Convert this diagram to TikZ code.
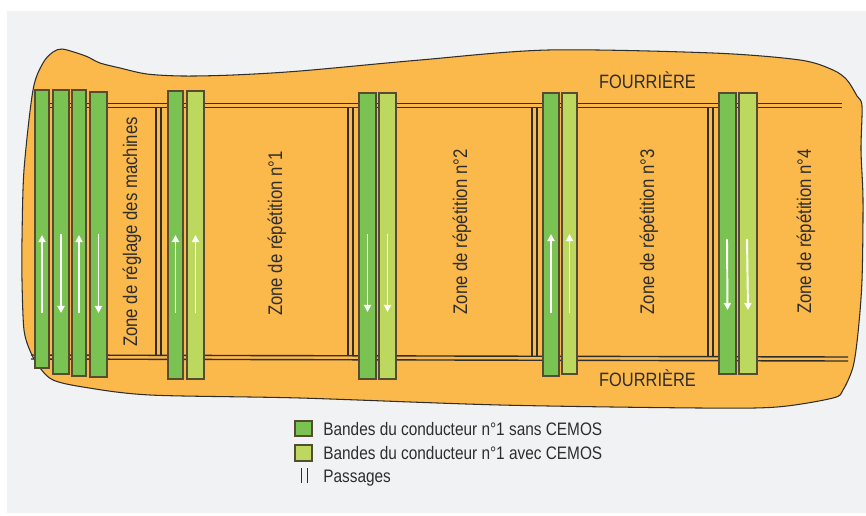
\documentclass[tikz,border=0pt]{standalone}
\usepackage{fontspec}
\setmainfont{Liberation Sans}[FakeStretch=0.85]
\usetikzlibrary{arrows.meta}

\definecolor{panel}{HTML}{F1F2F4}
\definecolor{field}{HTML}{FBB84B}
\definecolor{sans}{HTML}{7AC251}
\definecolor{avec}{HTML}{BDD85E}
\definecolor{edge}{HTML}{564C34}
\definecolor{ink}{HTML}{2E2E2E}

\begin{document}
\begin{tikzpicture}[
  x=0.02cm, y=-0.02cm,
  font=\fontsize{11}{13}\selectfont,
  >={Triangle[length=4pt, width=4pt]},
  strip/.style={draw=edge, line width=0.8pt},
  flow/.style={->, white, line width=1.1pt},
  road/.style={ink, line width=0.8pt},
  zone/.style={rotate=90, anchor=base, inner sep=0pt, text=ink,
               font=\fontsize{11.2}{13}\selectfont},
  keytext/.style={anchor=base west, inner sep=0pt, text=ink,
                  font=\fontsize{10.3}{12}\selectfont},
]
% Coordinate system: 1 unit = 1 px of the plan, y pointing down

% --- Background panel ---
\useasboundingbox (0,0) rectangle (866,515);
\fill[white] (0,0) rectangle (866,515);
\fill[panel] (7,11) rectangle (866,513);

% --- Field outline ---
\draw[fill=field, draw=ink, line width=0.6pt] plot[smooth cycle, tension=0.5] coordinates {
  (22,240) (24,170) (33,90) (43,63) (53,52) (62,49) (77,53) (88,57)
  (100,63) (120,68) (147,74) (183,76) (233,75) (300,71) (420,60)
  (548,50) (713,53) (800,60) (833,70) (847,80) (857,96) (862,106)
  (861,150) (863,200) (862,280) (858,333) (853,367) (843,390) (833,398)
  (777,407) (700,408) (500,405) (300,398) (150,395) (83,387) (53,380)
  (40,368) (31,353) (24,330) (22,280)};

% --- Headlands (double lines) ---
\draw[road] (40,103.5) -- (842,103.5);
\draw[road] (40,107.5) -- (842,107.5);
\draw[road] (31,355) -- (848,357);
\draw[road] (31,359) -- (848,361);

% --- Passages ---
\foreach \x in {156,348,532,708} {
  \draw[road] (\x,107.5) -- (\x,355.5);
  \draw[road] (\x+5,107.5) -- (\x+5,355.5);
}

% --- Strips ---
\foreach \xa/\xb/\ya/\yb/\col in {
  35/49/90/368/sans, 53/69/90/374/sans, 72/86/90/376/sans, 90/107/92/377/sans,
  168/183/91/379/sans, 187/204/91/379/avec,
  359/376/93/379/sans, 379/396/93/379/avec,
  543/559/93/376/sans, 562/577/93/374/avec,
  719/736/93/374/sans, 739/757/93/374/avec}
  \filldraw[strip, fill=\col] (\xa,\ya) rectangle (\xb,\yb);

% --- Driving directions ---
\foreach \xa/\xb/\ya/\yb in {
  42/42/313/235, 61/61/234/313, 79/79/313/235, 98.5/98.5/234/313,
  175.5/175.5/313/235, 195.5/195.5/313/235,
  367.5/367.5/234/312, 387.5/387.5/234/312,
  551/551/313/234, 569.5/569.5/313/234,
  727/727.5/239/310, 747/748/239/310}
  \draw[flow] (\xa,\ya) -- (\xb,\yb);

% --- Headland labels ---
\node[anchor=base, inner sep=0pt, text=ink] (fourhaut) at (647.5,88) {FOURRIÈRE};
\node[anchor=base, inner sep=0pt, text=ink] (fourbas) at (647.5,386) {FOURRIÈRE};

% --- Zone labels ---
\node[zone] (reglage) at (137,232) {Zone de réglage des machines};
\node[zone] (rep1) at (282,233.5) {Zone de répétition n°1};
\node[zone] (rep2) at (467,232) {Zone de répétition n°2};
\node[zone] (rep3) at (654,232) {Zone de répétition n°3};
\node[zone] (rep4) at (811,231.5) {Zone de répétition n°4};

% --- Legend ---
\filldraw[strip, fill=sans] (295,421) rectangle (312,436);
\filldraw[strip, fill=avec] (295,445) rectangle (312,461);
\draw[ink, line width=0.5pt] (301,468) -- (301,483);
\draw[ink, line width=0.5pt] (307,468) -- (307,483);
\node[keytext] (keysans) at (323,435) {Bandes du conducteur n°1 sans CEMOS};
\node[keytext] (keyavec) at (323,459) {Bandes du conducteur n°1 avec CEMOS};
\node[keytext] (keypass) at (323,482) {Passages};

\end{tikzpicture}
\end{document}
